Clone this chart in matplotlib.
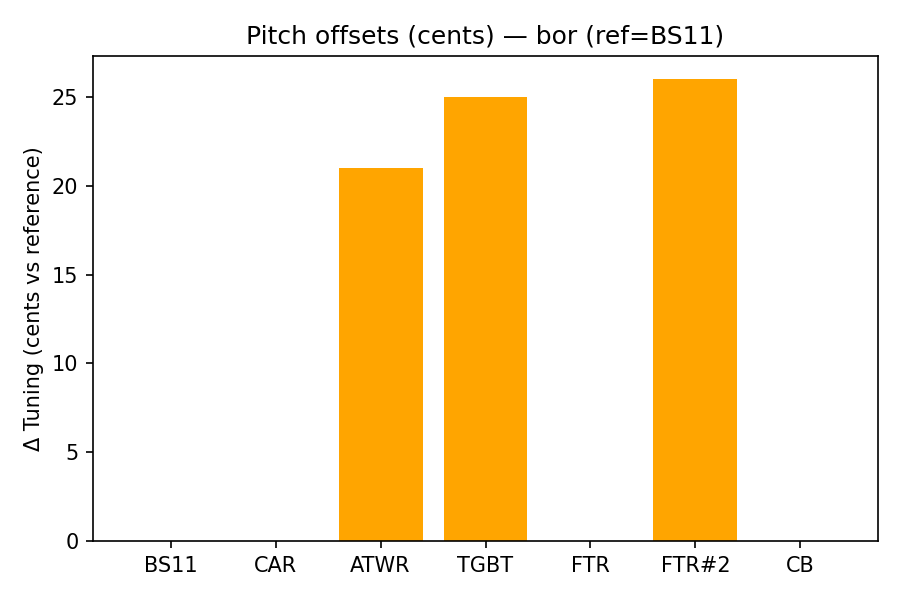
import matplotlib
matplotlib.use("Agg")
import matplotlib.pyplot as plt

labels = ["BS11", "CAR", "ATWR", "TGBT", "FTR", "FTR#2", "CB"]
offsets = [0, 0, 21, 25, 0, 26, 0]

fig, ax = plt.subplots(figsize=(6, 4), dpi=150)
ax.bar(labels, offsets, color="orange")
ax.set_title("Pitch offsets (cents) — bor (ref=BS11)")
ax.set_ylabel("Δ Tuning (cents vs reference)")
fig.subplots_adjust(left=0.1033, right=0.9756, top=0.9067, bottom=0.0983)
fig.savefig("out.png", dpi=150)
plt.close(fig)
